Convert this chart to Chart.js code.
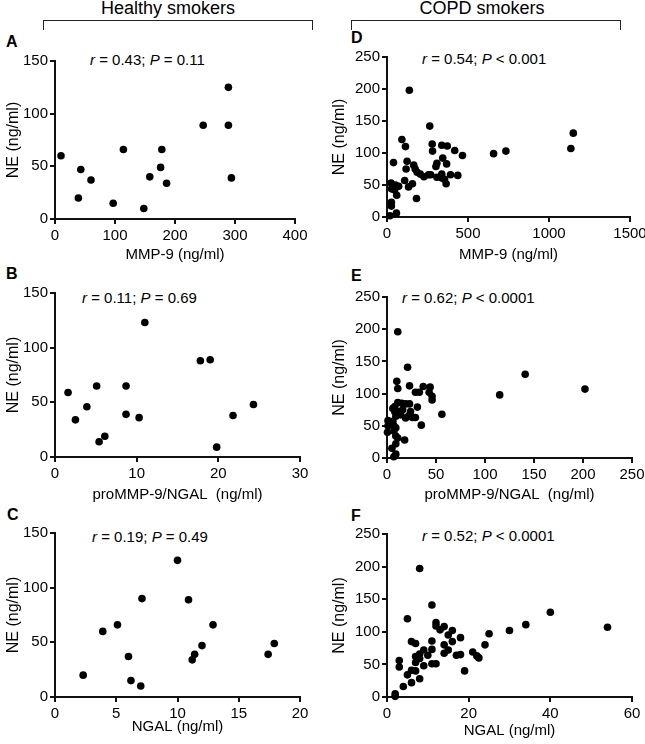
<!DOCTYPE html>
<html>
<head>
<meta charset="utf-8">
<script src="https://cdn.jsdelivr.net/npm/chart.js@4.4.1/dist/chart.umd.min.js"></script>
<style>
  body { margin: 0; background: #fff; font-family: "Liberation Sans", Arial, sans-serif; color: #000; }
  #page { position: relative; width: 645px; height: 744px; overflow: hidden; }
  canvas { position: absolute; }
  .group { position: absolute; font-size: 18px; line-height: 20px; text-align: center; white-space: nowrap; }
  .bracket { position: absolute; height: 9px; border: 1.5px solid #222; border-bottom: none; }
  .letter { position: absolute; font-size: 16px; font-weight: bold; line-height: 18px; }
  .stat { position: absolute; font-size: 15px; line-height: 18px; white-space: pre; }
</style>
</head>
<body>
<div id="page">
  <div class="group" style="left:98px;top:-2px;width:140px;">Healthy smokers</div>
  <div class="group" style="left:412px;top:-2px;width:140px;">COPD smokers</div>
  <div class="bracket" style="left:43px;top:20px;width:268px;"></div>
  <div class="bracket" style="left:351px;top:20px;width:268px;"></div>

  <div class="letter" style="left:6px;top:33px;">A</div>
  <div class="letter" style="left:351px;top:29px;">D</div>
  <div class="letter" style="left:6px;top:265px;">B</div>
  <div class="letter" style="left:351px;top:267px;">E</div>
  <div class="letter" style="left:7px;top:506px;">C</div>
  <div class="letter" style="left:351px;top:507px;">F</div>

  <div class="stat" style="left:90px;top:51px;"><i>r</i> = 0.43; <i>P</i> = 0.11</div>
  <div class="stat" style="left:422px;top:50px;"><i>r</i> = 0.54; <i>P</i> &lt; 0.001</div>
  <div class="stat" style="left:82px;top:289px;"><i>r</i> = 0.11; <i>P</i> = 0.69</div>
  <div class="stat" style="left:402px;top:289px;"><i>r</i> = 0.62; <i>P</i> &lt; 0.0001</div>
  <div class="stat" style="left:92px;top:528px;"><i>r</i> = 0.19; <i>P</i> = 0.49</div>
  <div class="stat" style="left:422px;top:527px;"><i>r</i> = 0.52; <i>P</i> &lt; 0.0001</div>
</div>
<script>
// Healthy smokers: NE vs MMP-9 (A), proMMP-9/NGAL (B), NGAL (C)
const healthyMmp9 = [10, 39, 43, 60, 97, 114, 148, 158, 176, 178, 186, 247, 289, 289, 294];
const healthyMmp9NE = [60, 20, 47, 37, 15, 66, 10, 40, 49, 66, 34, 89, 125, 89, 39];

const healthyComplex = [1.6, 2.5, 3.9, 5.1, 5.4, 6.1, 8.7, 8.7, 10.3, 11, 17.8, 19, 19.8, 21.8, 24.3];
const healthyComplexNE = [59, 34, 46, 65, 14, 19, 65, 39, 36, 123, 88, 89, 9, 38, 48];

const healthyNgal = [2.3, 3.9, 5.1, 6.0, 6.2, 7.0, 7.1, 10, 10.9, 11.2, 11.4, 12, 12.9, 17.4, 17.9];
const healthyNgalNE = [20, 60, 66, 37, 15, 10, 90, 125, 89, 34, 39, 47, 66, 39, 49];

// COPD smokers: NE vs MMP-9 (D), proMMP-9/NGAL (E), NGAL (F)
const copdMmp9 = [138, 264, 92, 114, 279, 281, 338, 372, 418, 466, 40, 124, 344, 308, 302, 368,
  118, 165, 174, 186, 205, 228, 256, 270, 308, 338, 338, 355, 365, 392, 437,
  109, 157, 133, 182, 25, 52, 72, 28, 47, 60, 27, 27, 58, 18, 658, 734, 1135, 1150];
const copdMmp9NE = [198, 142, 121, 110, 114, 103, 112, 111, 104, 96, 85, 87, 92, 84, 79, 83,
  75, 81, 75, 70, 67, 63, 66, 66, 62, 67, 61, 59, 52, 66, 65,
  57, 52, 47, 29, 53, 50, 48, 44, 42, 34, 23, 17, 6, 2, 99, 103, 107, 131];

const copdComplex = [11, 21, 10, 11, 23, 29, 33, 37, 44, 43, 46, 46, 56, 35, 31, 26, 29, 24, 23, 19,
  22, 19, 15, 11, 8, 6, 11, 16, 14, 8, 9, 1, 3, 6, 7, 1, 9, 0.5, 7, 9, 11, 18, 9, 5, 9, 7,
  115, 141, 202];
const copdComplexNE = [196, 141, 119, 108, 112, 102, 102, 111, 110, 102, 96, 90, 68, 51, 79, 63, 63, 72, 84, 84,
  65, 62, 85, 86, 80, 77, 72, 75, 67, 72, 65, 58, 55, 57, 50, 50, 47, 40, 42, 34, 31, 28, 22, 15, 6, 2,
  98, 130, 107];

const copdNgal = [8, 11, 5, 12, 12, 13, 14, 16, 15, 18, 16, 11, 6, 7, 14, 11, 15, 14, 17, 18,
  9, 8, 7, 8, 10, 7, 9, 11, 12, 3, 3, 6, 7, 5, 6, 8, 4, 2, 2, 19, 21, 22, 22.5, 24, 25, 30, 34, 40, 54];
const copdNgalNE = [197, 141, 120, 114, 109, 103, 108, 102, 95, 91, 85, 86, 85, 82, 80, 73, 72, 67, 64, 65,
  72, 66, 62, 59, 64, 53, 48, 51, 51, 56, 46, 41, 40, 34, 22, 28, 16, 5, 1, 40, 69, 63, 60, 80, 97, 102, 111, 130, 107];

const yTitle = 'NE (ng/ml)';

// area = [left, top, right, bottom] of the plot box on the page
const panels = [
  { xs: healthyMmp9, ys: healthyMmp9NE, xMax: 400, xStep: 100, yMax: 150, xTitle: 'MMP-9 (ng/ml)', area: [55, 61, 295, 219], xTitleY: 255, yTitleX: 13 },
  { xs: healthyComplex, ys: healthyComplexNE, xMax: 30, xStep: 10, yMax: 150, xTitle: 'proMMP-9/NGAL  (ng/ml)', area: [55, 293, 300, 457], xTitleY: 495, yTitleX: 13 },
  { xs: healthyNgal, ys: healthyNgalNE, xMax: 20, xStep: 5, yMax: 150, xTitle: 'NGAL (ng/ml)', area: [55, 533, 300, 697], xTitleY: 727, yTitleX: 13 },
  { xs: copdMmp9, ys: copdMmp9NE, xMax: 1500, xStep: 500, yMax: 250, xTitle: 'MMP-9 (ng/ml)', area: [387, 57, 630, 217], xTitleY: 255, yTitleX: 339 },
  { xs: copdComplex, ys: copdComplexNE, xMax: 250, xStep: 50, yMax: 250, xTitle: 'proMMP-9/NGAL  (ng/ml)', area: [387, 297, 632, 458], xTitleY: 495, yTitleX: 339 },
  { xs: copdNgal, ys: copdNgalNE, xMax: 60, xStep: 20, yMax: 250, xTitle: 'NGAL (ng/ml)', area: [387, 534, 632, 697], xTitleY: 731, yTitleX: 339 }
];

Chart.defaults.font.family = '"Liberation Sans", Arial, sans-serif';
Chart.defaults.font.size = 15;
Chart.defaults.color = '#000';

const axisGrid = { drawOnChartArea: false, drawTicks: true, tickLength: 5, color: '#111', lineWidth: 2 };
const axisBorder = { color: '#111', width: 2 };

function makePanel(p) {
  var left = p.yTitleX - 13;
  var top = p.area[1] - 16;
  var right = p.area[2] + 24;
  var bottom = p.xTitleY + 9;
  var yW = p.area[0] - left;
  var xH = bottom - p.area[3];

  var cv = document.createElement('canvas');
  cv.width = right - left;
  cv.height = bottom - top;
  cv.style.left = left + 'px';
  cv.style.top = top + 'px';
  document.getElementById('page').appendChild(cv);

  var points = p.xs.map(function (x, i) { return { x: x, y: p.ys[i] }; });

  new Chart(cv.getContext('2d'), {
    type: 'scatter',
    data: {
      datasets: [{
        data: points,
        backgroundColor: '#000',
        borderColor: '#000',
        borderWidth: 0,
        pointRadius: 3.8,
        pointHoverRadius: 3.8,
        clip: false
      }]
    },
    options: {
      responsive: false,
      animation: false,
      events: [],
      layout: { padding: { left: 0, top: 16, right: 24, bottom: 0 } },
      plugins: { legend: { display: false }, tooltip: { enabled: false } },
      scales: {
        x: {
          type: 'linear',
          min: 0,
          max: p.xMax,
          afterFit: function (s) { s.height = xH; },
          ticks: { stepSize: p.xStep, autoSkip: false, maxRotation: 0, padding: 3, callback: function (v) { return String(v); } },
          grid: axisGrid,
          border: axisBorder,
          title: { display: true, text: p.xTitle, padding: { top: 0, bottom: 0 } }
        },
        y: {
          type: 'linear',
          min: 0,
          max: p.yMax,
          afterFit: function (s) { s.width = yW; },
          ticks: { stepSize: 50, autoSkip: false, padding: 2, callback: function (v) { return String(v); } },
          grid: axisGrid,
          border: axisBorder,
          title: { display: true, text: yTitle, font: { size: 16 }, padding: { top: 4, bottom: 0 } }
        }
      }
    }
  });
}

panels.forEach(makePanel);
</script>
</body>
</html>
